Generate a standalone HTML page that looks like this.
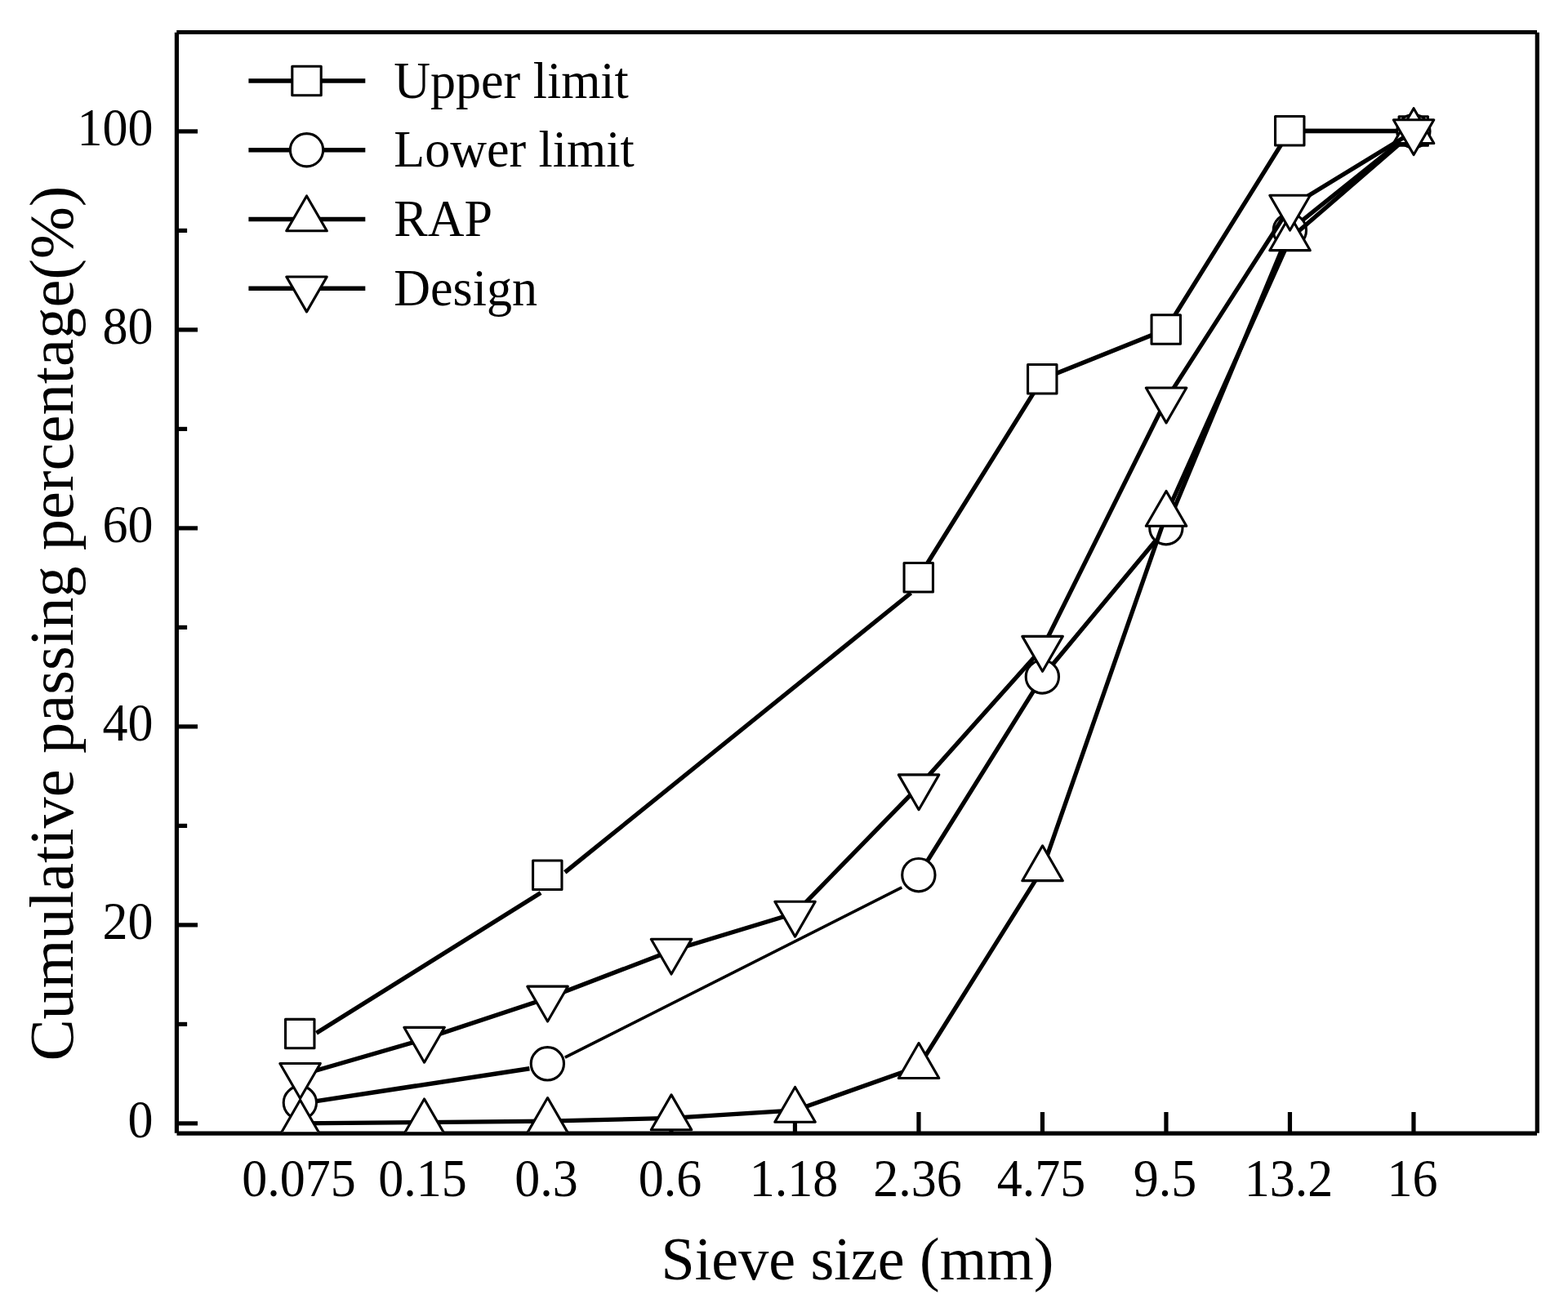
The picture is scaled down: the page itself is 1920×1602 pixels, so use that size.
<!DOCTYPE html>
<html lang="en">
<head>
<meta charset="utf-8">
<title>Gradation curves</title>
<style>
html,body{margin:0;padding:0;background:#fff;}
body{width:1920px;height:1602px;overflow:hidden;}
svg{display:block;}
text{font-family:"Liberation Serif","DejaVu Serif",serif;fill:#000;}
.ax{stroke:#000;stroke-width:5.2;fill:none;stroke-linecap:butt;}
.ln{stroke:#000;stroke-width:5.3;fill:none;stroke-linejoin:round;stroke-linecap:butt;}
.mk{stroke:#000;stroke-width:3.1;fill:#fff;stroke-linejoin:round;}
.tk{font-size:62px;}
.lg{font-size:62px;}
.tt{font-size:74px;}
</style>
</head>
<body>
<svg width="1920" height="1602" viewBox="0 0 1920 1602">
<rect x="0" y="0" width="1920" height="1602" fill="#fff"/>
<defs><clipPath id="plot"><rect x="216.4" y="39.5" width="1665.9" height="1346.8"/></clipPath></defs>

<g class="ax">
<line x1="216.25" y1="39.5" x2="1882" y2="39.5"/>
<line x1="216.5" y1="1388.1" x2="1882" y2="1388.1"/>
<line x1="216.4" y1="39.75" x2="216.4" y2="1387.75"/>
<line x1="1882.3" y1="39.75" x2="1882.3" y2="1387.75"/>
<line x1="216.4" y1="1375.9" x2="242" y2="1375.9"/>
<line x1="216.4" y1="1254.4" x2="229.1" y2="1254.4"/>
<line x1="216.4" y1="1132.9" x2="242" y2="1132.9"/>
<line x1="216.4" y1="1011.4" x2="229.1" y2="1011.4"/>
<line x1="216.4" y1="889.9" x2="242" y2="889.9"/>
<line x1="216.4" y1="768.4" x2="229.1" y2="768.4"/>
<line x1="216.4" y1="646.9" x2="242" y2="646.9"/>
<line x1="216.4" y1="525.4" x2="229.1" y2="525.4"/>
<line x1="216.4" y1="403.9" x2="242" y2="403.9"/>
<line x1="216.4" y1="282.4" x2="229.1" y2="282.4"/>
<line x1="216.4" y1="160.9" x2="242" y2="160.9"/>
<line x1="367.45" y1="1388.1" x2="367.45" y2="1362"/>
<line x1="518.95" y1="1388.1" x2="518.95" y2="1362"/>
<line x1="670.45" y1="1388.1" x2="670.45" y2="1362"/>
<line x1="821.95" y1="1388.1" x2="821.95" y2="1362"/>
<line x1="973.45" y1="1388.1" x2="973.45" y2="1362"/>
<line x1="1124.95" y1="1388.1" x2="1124.95" y2="1362"/>
<line x1="1276.45" y1="1388.1" x2="1276.45" y2="1362"/>
<line x1="1427.95" y1="1388.1" x2="1427.95" y2="1362"/>
<line x1="1579.45" y1="1388.1" x2="1579.45" y2="1362"/>
<line x1="1730.95" y1="1388.1" x2="1730.95" y2="1362"/>
</g>
<g clip-path="url(#plot)">
<polyline class="ln" points="1124.75,707.25 1276.25,464.25 1427.75,403.5 1579.25,160.26 1730.75,160.5"/>
<g class="mk"><rect x="349.55" y="1248.33" width="35.4" height="35.4"/><rect x="652.55" y="1054.05" width="35.4" height="35.4"/><rect x="1107.05" y="689.55" width="35.4" height="35.4"/><rect x="1258.55" y="446.55" width="35.4" height="35.4"/><rect x="1410.05" y="385.8" width="35.4" height="35.4"/><rect x="1561.55" y="142.56" width="35.4" height="35.4"/><rect x="1713.05" y="142.8" width="35.4" height="35.4"/></g>
<polyline class="ln" points="1124.85,1071.71 1276.35,828.95 1427.85,646.7 1579.35,282.2 1730.85,160.7"/>
<g class="mk"><circle cx="367.35" cy="1350.55" r="20.15"/><circle cx="670.35" cy="1302.8" r="20.15"/><circle cx="1124.85" cy="1071.71" r="20.15"/><circle cx="1276.35" cy="828.95" r="20.15"/><circle cx="1427.85" cy="646.7" r="20.15"/><circle cx="1579.35" cy="282.2" r="20.15"/><circle cx="1730.85" cy="160.7" r="20.15"/></g>
<polyline class="ln" points="367.55,1375.9 519.55,1374.56 670.55,1373.11 822.05,1369.46 973.55,1359.98 1125.05,1306.16 1276.55,1064.37 1428.05,630.01 1579.55,292.36 1731.05,161.26"/>
<g class="mk"><polygon points="367.55,1347.32 392.3,1390.19 342.8,1390.19"/><polygon points="519.55,1345.98 544.3,1388.85 494.8,1388.85"/><polygon points="670.55,1344.53 695.3,1387.39 645.8,1387.39"/><polygon points="822.05,1340.88 846.8,1383.75 797.3,1383.75"/><polygon points="973.55,1331.4 998.3,1374.27 948.8,1374.27"/><polygon points="1125.05,1277.58 1149.8,1320.45 1100.3,1320.45"/><polygon points="1276.55,1035.8 1301.3,1078.66 1251.8,1078.66"/><polygon points="1428.05,601.43 1452.8,644.3 1403.3,644.3"/><polygon points="1579.55,263.78 1604.3,306.65 1554.8,306.65"/><polygon points="1731.05,132.69 1755.8,175.55 1706.3,175.55"/></g>
<polyline class="ln" points="367.55,1316.73 519.55,1272.62 670.55,1222.45 822.05,1164.49 973.55,1118.56 1125.05,963.16 1276.55,793.67 1428.05,489.31 1579.55,253.48 1731.05,161.02"/>
<g class="mk"><polygon points="367.55,1345.31 392.3,1302.44 342.8,1302.44"/><polygon points="519.55,1301.2 544.3,1258.34 494.8,1258.34"/><polygon points="670.55,1251.02 695.3,1208.16 645.8,1208.16"/><polygon points="822.05,1193.07 846.8,1150.2 797.3,1150.2"/><polygon points="973.55,1147.14 998.3,1104.27 948.8,1104.27"/><polygon points="1125.05,991.74 1149.8,948.88 1100.3,948.88"/><polygon points="1276.55,822.25 1301.3,779.38 1251.8,779.38"/><polygon points="1428.05,517.89 1452.8,475.03 1403.3,475.03"/><polygon points="1579.55,282.06 1604.3,239.19 1554.8,239.19"/><polygon points="1731.05,189.6 1755.8,146.73 1706.3,146.73"/></g>
<line x1="387.4" y1="1265.2" x2="662.1" y2="1093.4" stroke="#000" stroke-width="5.3"/>
<line x1="691.75" y1="1068.4" x2="1115.4" y2="726.2" stroke="#000" stroke-width="5.3"/>
<line x1="387.4" y1="1348.6" x2="648.4" y2="1308.75" stroke="#000" stroke-width="5.5"/>
<line x1="691.8" y1="1295.2" x2="1104.3" y2="1086.9" stroke="#000" stroke-width="3.7"/>
</g>
<line class="ln" x1="304.4" y1="99" x2="447.3" y2="99" style="stroke-width:5.5"/>
<g class="mk"><rect x="357.8" y="81.3" width="35.4" height="35.4"/></g>
<text class="lg" transform="translate(482.3,120.3) scale(1,1.02)">Upper limit</text>
<line class="ln" x1="304.4" y1="183.75" x2="447.3" y2="183.75" style="stroke-width:5.5"/>
<g class="mk"><circle cx="375.5" cy="183.75" r="20.15"/></g>
<text class="lg" transform="translate(482.3,204.15) scale(1,1.02)">Lower limit</text>
<line class="ln" x1="304.4" y1="268.5" x2="447.3" y2="268.5" style="stroke-width:5.5"/>
<g class="mk"><polygon points="375.5,239.92 400.25,282.79 350.75,282.79"/></g>
<text class="lg" transform="translate(482.3,289.1) scale(1,1.02)">RAP</text>
<line class="ln" x1="304.4" y1="353.3" x2="447.3" y2="353.3" style="stroke-width:5.5"/>
<g class="mk"><polygon points="375.5,381.88 400.25,339.01 350.75,339.01"/></g>
<text class="lg" transform="translate(482.3,374.2) scale(1,1.02)">Design</text>
<text class="tk" transform="translate(187.5,1393.2) scale(1,1.04)" text-anchor="end">0</text>
<text class="tk" transform="translate(187.5,1150.2) scale(1,1.04)" text-anchor="end">20</text>
<text class="tk" transform="translate(187.5,907.2) scale(1,1.04)" text-anchor="end">40</text>
<text class="tk" transform="translate(187.5,664.2) scale(1,1.04)" text-anchor="end">60</text>
<text class="tk" transform="translate(187.5,421.2) scale(1,1.04)" text-anchor="end">80</text>
<text class="tk" transform="translate(187.5,178.2) scale(1,1.04)" text-anchor="end">100</text>
<text class="tk" transform="translate(365.95,1464.7) scale(1,1.04)" text-anchor="middle">0.075</text>
<text class="tk" transform="translate(517.45,1464.7) scale(1,1.04)" text-anchor="middle">0.15</text>
<text class="tk" transform="translate(668.95,1464.7) scale(1,1.04)" text-anchor="middle">0.3</text>
<text class="tk" transform="translate(820.45,1464.7) scale(1,1.04)" text-anchor="middle">0.6</text>
<text class="tk" transform="translate(971.95,1464.7) scale(1,1.04)" text-anchor="middle">1.18</text>
<text class="tk" transform="translate(1123.45,1464.7) scale(1,1.04)" text-anchor="middle">2.36</text>
<text class="tk" transform="translate(1274.95,1464.7) scale(1,1.04)" text-anchor="middle">4.75</text>
<text class="tk" transform="translate(1426.45,1464.7) scale(1,1.04)" text-anchor="middle">9.5</text>
<text class="tk" transform="translate(1577.95,1464.7) scale(1,1.04)" text-anchor="middle">13.2</text>
<text class="tk" transform="translate(1729.45,1464.7) scale(1,1.04)" text-anchor="middle">16</text>
<text class="tt" transform="translate(1050,1567.2) scale(1,1.01)" text-anchor="middle">Sieve size (mm)</text>
<text class="tt" style="font-size:76.6px" transform="translate(89.3,763.7) rotate(-90) scale(1,0.995)" text-anchor="middle">Cumulative passing percentage(%)</text>
</svg>
</body>
</html>
